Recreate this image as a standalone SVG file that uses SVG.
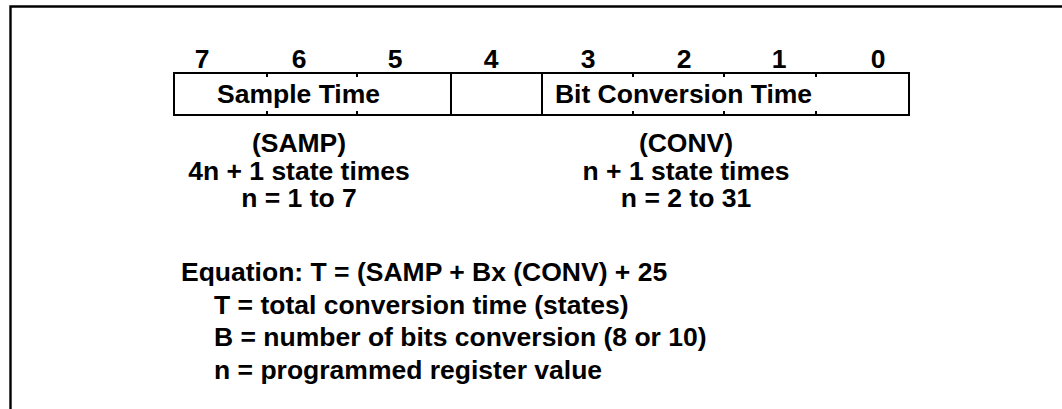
<svg xmlns="http://www.w3.org/2000/svg" width="1062" height="409" viewBox="0 0 1062 409">
<style>
text{font-family:"Liberation Sans",Arial,sans-serif;font-weight:bold;font-size:26.5px;fill:#000}
.c{text-anchor:middle}
.ln{stroke:#000;stroke-width:2;fill:none}
</style>
<rect width="1062" height="409" fill="#fff"/>
<g id="frame"><path d="M10.5 409 V6.5 H1062" stroke="#000" stroke-width="2.4" fill="none"/></g>
<g id="bits">
<text class="c" x="202" y="67.5">7</text>
<text class="c" x="299" y="67.5">6</text>
<text class="c" x="395" y="67.5">5</text>
<text class="c" x="491" y="67.5">4</text>
<text class="c" x="588" y="67.5">3</text>
<text class="c" x="684" y="67.5">2</text>
<text class="c" x="779" y="67.5">1</text>
<text class="c" x="878" y="67.5">0</text>
</g>
<g id="register">
<rect class="ln" x="174" y="73" width="735" height="42"/>
<path class="ln" d="M451 73V115M542 73V115M267 73v4M267 115v-4M357 73v4M357 115v-4M633 73v4M633 115v-4M724 73v4M724 115v-4M816 73v4M816 115v-4"/>
<text class="c" x="298.5" y="103">Sample Time</text>
<text class="c" x="683.5" y="103">Bit Conversion Time</text>
</g>
<g id="samp">
<text class="c" x="299" y="152">(SAMP)</text>
<text class="c" x="299" y="179.5">4n + 1 state times</text>
<text class="c" x="299" y="207">n = 1 to 7</text>
</g>
<g id="conv">
<text class="c" x="686" y="152">(CONV)</text>
<text class="c" x="686" y="179.5">n + 1 state times</text>
<text class="c" x="686" y="207">n = 2 to 31</text>
</g>
<g id="equation">
<text x="181" y="281">Equation: T = (SAMP + Bx (CONV) + 25</text>
<text x="214" y="313.5">T = total conversion time (states)</text>
<text x="214" y="346">B = number of bits conversion (8 or 10)</text>
<text x="214" y="378.5">n = programmed register value</text>
</g>
<g id="connectors"></g>
</svg>
